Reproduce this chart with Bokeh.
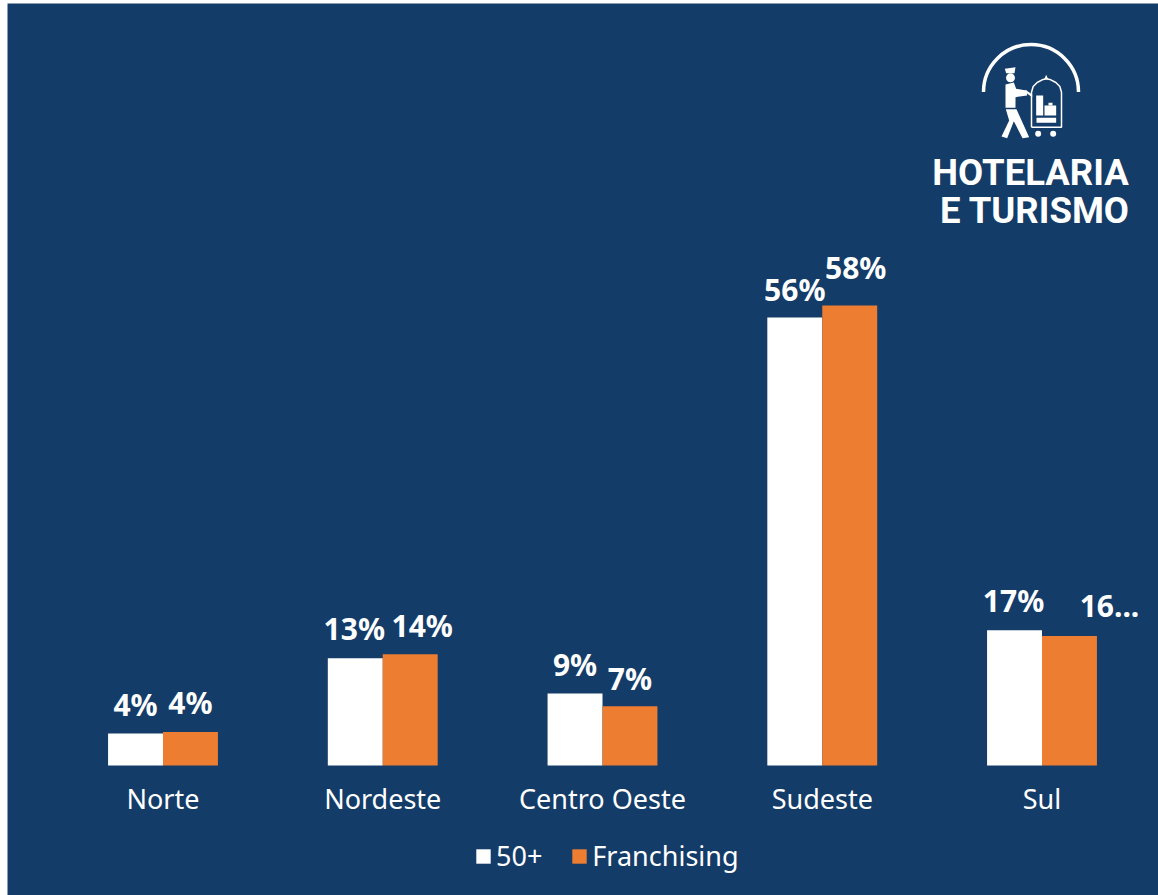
from bokeh.plotting import figure
from bokeh.embed import file_html
from bokeh.resources import INLINE
from bokeh.models import ColumnDataSource, FixedTicker, Range1d, Legend, LegendItem
from bokeh.transform import dodge
from bokeh.core.properties import value

categories = ["Norte", "Nordeste", "Centro Oeste", "Sudeste", "Sul"]
series_50 = [4.0, 13.4, 9.0, 56.0, 16.9]
series_fr = [4.2, 13.9, 7.4, 57.5, 16.2]
labels_50 = ["4%", "13%", "9%", "56%", "17%"]
labels_fr = ["4%", "14%", "7%", "58%", "16..."]

BG = "#143c68"
ORANGE = "#ed7d31"
WHITE = "#ffffff"
FONT = "Noto Sans"

# label nudges in screen pixels (the original labels were hand placed)
dx_50 = [0, -1, 0, 0, -1]
dy_50 = [-29, -30, -29, -28, -30]
dx_fr = [0, 12, 0, 6, 40]
dy_fr = [-29, -29, -28, -38, -30]

idx = list(range(len(categories)))
# frame fills the figure; ranges are chosen so that the first category centre
# lands at 162.5 px, categories are 219.75 px apart, baseline at 765 px, 8 px per %.
L, R, T, B = 7, 1158, 3, 895
p = figure(width=R - L, height=B - T, output_backend="svg", toolbar_location=None,
           x_range=Range1d((L - 162.5) / 219.75, (R - 162.5) / 219.75),
           y_range=Range1d((765 - B) / 8, (765 - T) / 8),
           min_border_left=0, min_border_right=0, min_border_top=0, min_border_bottom=0,
           background_fill_color=BG, border_fill_color=BG, outline_line_color=None)
p.margin = (T, 0, 0, L)
p.grid.visible = False
p.yaxis.visible = False
ax = p.xaxis[0]
ax.fixed_location = 0
ax.ticker = FixedTicker(ticks=idx)
ax.major_label_overrides = dict(zip(idx, categories))
ax.axis_line_color = None
ax.major_tick_line_color = None
ax.minor_tick_line_color = None
ax.major_label_text_color = WHITE
ax.major_label_text_font = FONT
ax.major_label_text_font_size = "27px"
ax.major_label_standoff = 8

src = ColumnDataSource(dict(cat=idx, a=series_50, b=series_fr, la=labels_50, lb=labels_fr,
                            dxa=dx_50, dya=dy_50, dxb=dx_fr, dyb=dy_fr))
W = 0.25
r1 = p.vbar(x=dodge("cat", -W / 2), top="a", bottom=0, width=W, source=src,
            fill_color=WHITE, line_color=None)
r2 = p.vbar(x=dodge("cat", W / 2), top="b", bottom=0, width=W, source=src,
            fill_color=ORANGE, line_color=None)
common = dict(source=src, text_color=WHITE, text_font=value(FONT), text_font_style="bold",
              text_font_size="30px", text_align="center", text_baseline="middle")
p.text(x=dodge("cat", -W / 2), y="a", text="la", x_offset="dxa", y_offset="dya", **common)
p.text(x=dodge("cat", W / 2), y="b", text="lb", x_offset="dxb", y_offset="dyb", **common)

legend = Legend(items=[LegendItem(label="50+", renderers=[r1]), LegendItem(label="Franchising", renderers=[r2])],
                orientation="horizontal", location=(474 - L, B - 874), background_fill_alpha=0, border_line_alpha=0,
                label_text_color=WHITE, label_text_font=FONT, label_text_font_size="27px",
                glyph_width=18, glyph_height=18, spacing=28, label_standoff=4, margin=0, padding=0)
p.add_layout(legend, "center")

# Logo, drawn in page-pixel coordinates
p.extra_x_ranges["px"] = Range1d(L, R)
p.extra_y_ranges["px"] = Range1d(B, T)
def zx(v): return [900 + q / 3 for q in v]
def zy(v): return [20 + q / 3 for q in v]
logo = dict(x_range_name="px", y_range_name="px")
def poly(xs, ys):
    p.patch(zx(xs), zy(ys), fill_color=WHITE, line_color=None, **logo)
p.arc(x=[1030.5], y=[91.5], radius=[47.5], radius_units="screen", start_angle=0, end_angle=3.14159,
      line_color=WHITE, line_width=3.5, **logo)
poly([313, 345, 342, 317], [145, 140, 158, 158])
p.circle(x=zx([330]), y=zy([172]), radius=[4.5], radius_units="screen", fill_color=WHITE, line_color=None, **logo)
poly([315, 340, 347, 378, 380, 345, 345, 315], [192, 186, 205, 210, 225, 230, 262, 262])
poly([316, 348, 386, 366, 340, 320, 303, 326], [266, 266, 350, 353, 302, 353, 348, 300])
poly([375, 395, 395, 375], [208, 222, 230, 216])
p.line(zx([393, 393, 398, 410, 425, 438, 451, 466, 478, 483, 483, 393]),
       zy([320, 215, 198, 186, 178, 175, 178, 186, 198, 215, 320, 320]), line_color=WHITE, line_width=1.5, **logo)
poly([431, 437, 443], [176, 163, 176])
poly([407, 428, 428, 407], [225, 225, 285, 285])
poly([432, 467, 467, 432], [255, 255, 285, 285])
poly([444, 456, 456, 444], [247, 247, 255, 255])
poly([408, 467, 467, 408], [292, 292, 307, 307])
p.circle(x=zx([413, 458]), y=zy([340, 340]), radius=[3, 3], radius_units="screen", fill_color=WHITE, line_color=None, **logo)
logo_text = dict(text_color=WHITE, text_font=value("Roboto"), text_font_style="bold",
                 text_font_size="36.5px", text_align="center", text_baseline="middle")
p.text(x=[1030], y=[172], text=["HOTELARIA"], **logo_text, **logo)
p.text(x=[1034.5], y=[210], text=["E TURISMO"], **logo_text, **logo)

open("out.html", "w").write(file_html(p, INLINE))
